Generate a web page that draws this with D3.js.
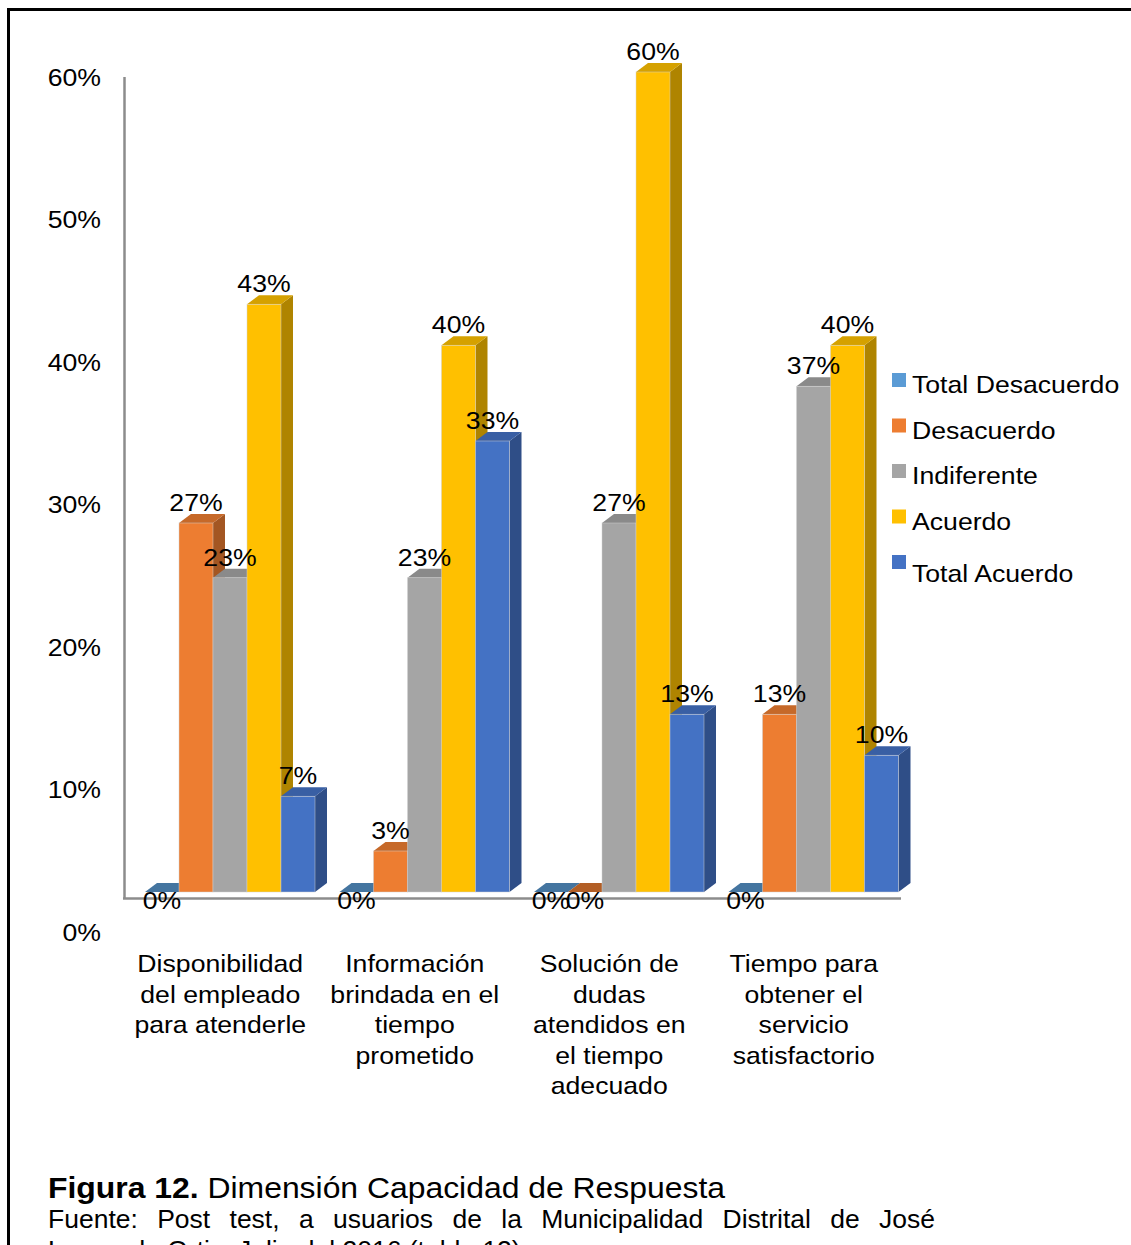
<!DOCTYPE html>
<html>
<head>
<meta charset="utf-8">
<script src="https://cdn.jsdelivr.net/npm/d3@7/dist/d3.min.js"></script>
<style>
  html, body { margin: 0; padding: 0; background: #fff; overflow: hidden; }
  svg { display: block; font-family: "Liberation Sans", Arial, sans-serif; }
</style>
</head>
<body>
<svg id="chart" width="1131" height="1245"></svg>
<script>
// Categories (multi-line labels) and series
const categories = [
  ["Disponibilidad", "del empleado", "para atenderle"],
  ["Información", "brindada en el", "tiempo", "prometido"],
  ["Solución de", "dudas", "atendidos en", "el tiempo", "adecuado"],
  ["Tiempo para", "obtener el", "servicio", "satisfactorio"]
];
const seriesNames = ["Total Desacuerdo", "Desacuerdo", "Indiferente", "Acuerdo", "Total Acuerdo"];
const seriesColors = ["#5B9BD5", "#ED7D31", "#A5A5A5", "#FFC000", "#4472C4"];

// Percentages per series, one value per category
const totalDesacuerdo = [0, 0, 0, 0];
const desacuerdo      = [27, 3, 0, 13];
const indiferente     = [23, 23, 27, 37];
const acuerdo         = [43, 40, 60, 40];
const totalAcuerdo    = [7, 33, 13, 10];
const seriesValues = [totalDesacuerdo, desacuerdo, indiferente, acuerdo, totalAcuerdo];

const yTicks = [0, 10, 20, 30, 40, 50, 60];

const svg = d3.select("#chart");
const catKeys = categories.map((c, i) => i);

// Scales
const x = d3.scaleBand().domain(catKeys).range([124, 902]).padding(0);
const xs = d3.scaleBand().domain(seriesNames).range([21, 191]).padding(0);
const y = d3.scaleLinear().domain([0, 60]).range([892, 72]);
const yLabel = d3.scaleLinear().domain([0, 60]).range([932, 77]);

const depthX = 12, depthY = -9;
const STRETCH = 1.11;   // text is set slightly wide

// Text helper: places a horizontally widened text at (px, py)
function wideText(parent, px, py, str, size, anchor, sx) {
  return parent.append("text")
    .attr("transform", `translate(${px},${py}) scale(${sx || STRETCH},1)`)
    .attr("text-anchor", anchor || "start")
    .attr("font-size", size).attr("fill", "#000")
    .text(str);
}

// Frame
svg.append("line").attr("x1", 7).attr("x2", 1131).attr("y1", 9.5).attr("y2", 9.5)
  .attr("stroke", "#000").attr("stroke-width", 3);
svg.append("line").attr("x1", 8.5).attr("x2", 8.5).attr("y1", 8).attr("y2", 1245)
  .attr("stroke", "#000").attr("stroke-width", 3);

// Axis lines
svg.append("line").attr("x1", 124.5).attr("x2", 124.5).attr("y1", 77).attr("y2", 898)
  .attr("stroke", "#8c8c8c").attr("stroke-width", 2.5);
svg.append("line").attr("x1", 123).attr("x2", 901).attr("y1", 898.5).attr("y2", 898.5)
  .attr("stroke", "#8c8c8c").attr("stroke-width", 2.5);

// Y axis tick labels
const gy = svg.append("g");
yTicks.forEach(t => {
  wideText(gy, 101, yLabel(t) + 8.5, t + "%", 24, "end");
});

// Flattened bar records, drawn left to right so later bars occlude earlier side faces
const bars = [];
catKeys.forEach(ci => {
  seriesNames.forEach((s, si) => {
    bars.push({ ci, si, s, v: seriesValues[si][ci], color: seriesColors[si] });
  });
});

const gBars = svg.append("g");
bars.forEach(b => {
  const x0 = x(b.ci) + xs(b.s);
  const w = xs.bandwidth();
  const yt = y(b.v), yb = y(0);
  const base = d3.color(b.color);
  const g = gBars.append("g");
  if (b.v > 0) {
    g.append("path")
      .attr("d", `M${x0 + w},${yt} L${x0 + w + depthX},${yt + depthY} L${x0 + w + depthX},${yb + depthY} L${x0 + w},${yb} Z`)
      .attr("fill", base.darker(1.05));
  }
  g.append("path")
    .attr("d", `M${x0},${yt} L${x0 + depthX},${yt + depthY} L${x0 + w + depthX},${yt + depthY} L${x0 + w},${yt} Z`)
    .attr("fill", base.darker(b.v > 0 ? 0.5 : 0.8));
  if (b.v > 0) {
    g.append("rect")
      .attr("x", x0).attr("y", yt).attr("width", w).attr("height", yb - yt)
      .attr("fill", b.color)
      .attr("stroke", "rgba(210,210,210,0.6)").attr("stroke-width", 0.8);
  }
});

// Data labels
const gLab = svg.append("g");
bars.forEach(d => {
  const cx = x(d.ci) + xs(d.s) + xs.bandwidth() / 2;
  const cy = d.v === 0 ? y(0) + 17 : y(d.v) - 12;
  wideText(gLab, cx, cy, d.v + "%", 24, "middle");
});

// Category labels
const gx = svg.append("g");
categories.forEach((lines, ci) => {
  const cx = x(ci) + x.bandwidth() / 2 - 1;
  lines.forEach((ln, li) => {
    wideText(gx, cx, 972 + li * 30.5, ln, 24, "middle");
  });
});

// Legend
const legend = svg.append("g").attr("transform", "translate(892,373)");
seriesNames.forEach((s, i) => {
  const yy = i * 45.5;
  legend.append("rect").attr("x", 0).attr("y", yy).attr("width", 14).attr("height", 14)
    .attr("fill", seriesColors[i]);
  wideText(legend, 20, yy + (i === 4 ? 27 : 20), s, 24, "start");
});

// Caption
const cap = svg.append("text")
  .attr("transform", "translate(48,1198) scale(1.1,1)")
  .attr("font-size", 29).attr("fill", "#000");
cap.append("tspan").attr("font-weight", "bold").text("Figura 12.");
cap.append("tspan").text(" Dimensión Capacidad de Respuesta");

// Justified source line
function justifiedLine(words, x0, x1, yb, size, sx) {
  const g = svg.append("g");
  const nodes = words.map(w => g.append("text").attr("font-size", size)
    .attr("fill", "#000").text(w));
  const widths = nodes.map(n => n.node().getComputedTextLength() * sx);
  const total = d3.sum(widths);
  const gap = (x1 - x0 - total) / (words.length - 1);
  let cx = x0;
  nodes.forEach((n, i) => {
    n.attr("transform", `translate(${cx},${yb}) scale(${sx},1)`);
    cx += widths[i] + gap;
  });
}
justifiedLine("Fuente: Post test, a usuarios de la Municipalidad Distrital de José".split(" "), 48, 935, 1228, 25, 1.06);
wideText(svg, 48, 1259, "Leonardo Ortiz, Julio del 2016 (tabla 12)", 25, "start", 1.06);
</script>
</body>
</html>
